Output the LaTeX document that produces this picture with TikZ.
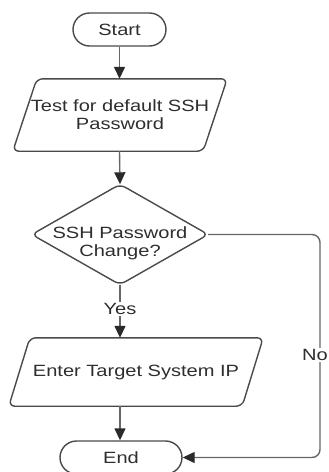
\documentclass[tikz,border=0pt]{standalone}
\usepackage{fontspec}
\setmainfont[FakeStretch=1.23]{Liberation Sans}
\usetikzlibrary{arrows.meta,calc}
\definecolor{edge}{HTML}{4a4a4a}
\definecolor{wire}{HTML}{666666}
\definecolor{tipc}{HTML}{2a2a2a}
\definecolor{ink}{HTML}{2e2e2e}

\begin{document}
\begin{tikzpicture}[x=1pt,y=-1pt,
  every node/.style={font=\fontsize{16.3}{18}\selectfont, text=ink, align=center, inner sep=0pt},
  terminal/.style={draw=edge, line width=1.4pt, rounded corners=16.5pt,
    minimum width=#1, minimum height=33pt},
  holder/.style n args={2}{minimum width=#1, minimum height=#2},
  outline/.style={draw=edge, line width=1.4pt, rounded corners=6pt},
  conn/.style={draw=wire, line width=1.4pt,
    -{Triangle[length=12pt,width=11pt,color=tipc]}},
  lbl/.style={fill=white, inner sep=1.5pt}]

\useasboundingbox (0,0) rectangle (329,472);

% terminals
\node[terminal=93pt] (start) at (119.5,29.5) {Start};
\node[terminal=122pt] (end) at (121,457.5) {End};

% input step: default password test
\node[holder={214pt}{72pt}] (test) at (120,115) {Test for default SSH\\Password};
\draw[outline] (test.south west) -- ($(test.north west)+(24,0)$)
  -- (test.north east) -- ($(test.south east)+(-24,0)$) -- cycle;

% decision
\node[holder={176pt}{100pt}] (chg) at (120,234.5) {};
\draw[outline] (chg.north) -- (chg.east) -- (chg.south) -- (chg.west) -- cycle;
\node (chgtext) at (120,243) {SSH Password\\Change?};

% input step: target address
\node[holder={254pt}{68pt}] (ip) at (136,372) {Enter Target System IP};
\draw[outline] (ip.south west) -- ($(ip.north west)+(21,0)$)
  -- (ip.north east) -- ($(ip.south east)+(-21,0)$) -- cycle;

% connectors
\coordinate (rx) at (320,0);
\draw[conn] (start.south) -- (start.south |- test.north);
\draw[conn] (start.south |- test.south) -- (chg.north);
\draw[conn] (chg.south) -- (chg.south |- ip.north);
\draw[conn] (chg.south |- ip.south) -- (chg.south |- end.north);
\draw[conn, rounded corners=8pt] (chg.east) -- (chg.east -| rx)
  -- (end.east -| rx) -- (end.east);

% branch labels
\node[lbl] (yes) at (120,309) {Yes};
\node[lbl, anchor=east, inner xsep=1pt] (no) at (329,355) {No};
\end{tikzpicture}
\end{document}
